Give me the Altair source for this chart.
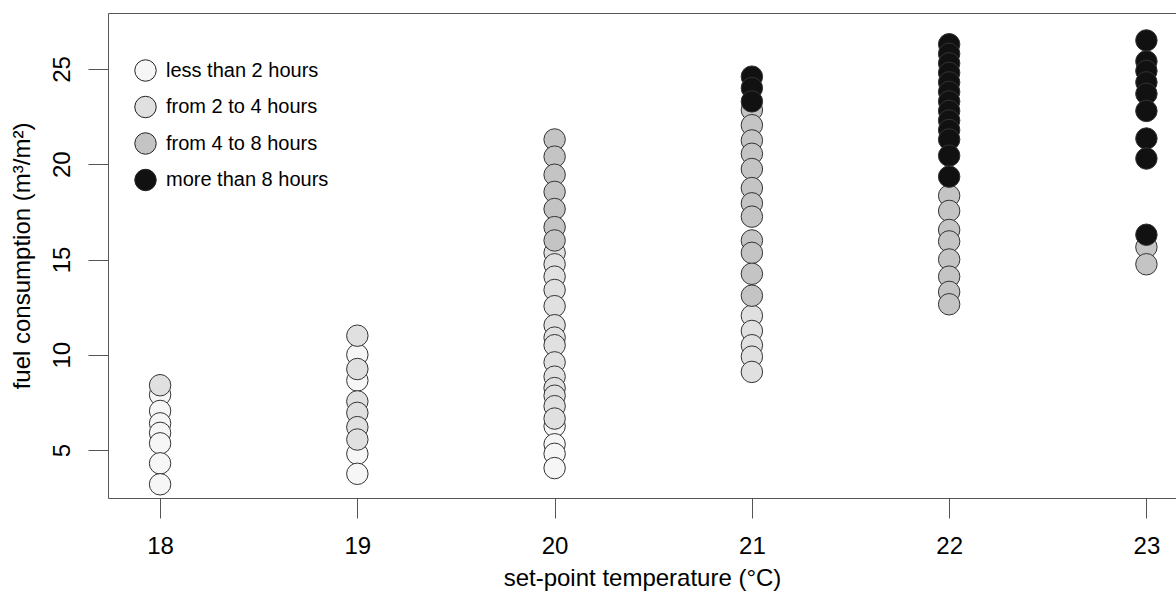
import altair as alt
import pandas as pd

# set-point temperature per observation
temps = (
    [18] * 8
    + [19] * 10
    + [20] * 25
    + [21] * 20
    + [22] * 21
    + [23] * 11
)

# fuel consumption (m3/m2)
fuel = (
    [8.4, 7.9, 7.05, 6.4, 5.9, 5.35, 4.3, 3.2]
    + [11.0, 10.0, 9.25, 8.65, 7.55, 6.95, 6.2, 5.55, 4.8, 3.75]
    + [21.3, 20.4, 19.45, 18.55, 17.65, 16.7, 16.0,
       15.35, 14.75, 14.1, 13.4, 12.55, 11.55, 10.9, 10.5, 9.6, 8.85, 8.25, 7.85, 7.3, 6.65,
       6.25, 5.3, 4.8, 4.05]
    + [24.6, 24.0, 23.3,
       22.85, 22.05, 21.25, 20.55, 19.75, 18.75, 17.95, 17.25, 16.0, 15.35, 14.25, 13.1,
       12.05, 11.25, 10.5, 9.9, 9.1]
    + [26.3, 25.8, 25.3, 24.8, 24.3, 23.8, 23.3, 22.8, 22.3, 21.8, 21.3, 20.45, 19.35,
       18.35, 17.55, 16.55, 15.95, 15.0, 14.1, 13.3, 12.65]
    + [26.5, 25.4, 24.9, 24.3, 23.7, 22.8, 21.35, 20.3, 16.3,
       15.65, 14.75]
)

W, L, G, B = "less than 2 hours", "from 2 to 4 hours", "from 4 to 8 hours", "more than 8 hours"
duration = (
    [L] + [W] * 7
    + [L, W, L, W, L, L, L, L, W, W]
    + [G] * 7 + [L] * 14 + [W] * 4
    + [B] * 3 + [G] * 12 + [L] * 5
    + [B] * 13 + [G] * 8
    + [B] * 9 + [G] * 2
)

categories = [W, L, G, B]
colors = ["#f6f6f6", "#e0e0e0", "#c4c4c4", "#111111"]
x_ticks = [18, 19, 20, 21, 22, 23]
y_ticks = [5, 10, 15, 20, 25]

df = pd.DataFrame({"temp": temps, "fuel": fuel, "duration": duration})
df["rank"] = df["duration"].map({c: i for i, c in enumerate(categories)})

FONT = "Liberation Sans"

chart = (
    alt.Chart(df)
    .mark_circle(size=460, opacity=1, stroke="#333333", strokeWidth=1)
    .encode(
        x=alt.X(
            "temp:Q",
            scale=alt.Scale(domain=[17.736, 23.15], nice=False, zero=False),
            axis=alt.Axis(
                values=x_ticks,
                title="set-point temperature (°C)",
                grid=False,
                domain=False,
                labelFontSize=24,
                titleFontSize=24,
                tickSize=20,
                labelPadding=16,
                titlePadding=8,
            ),
        ),
        y=alt.Y(
            "fuel:Q",
            scale=alt.Scale(domain=[2.48, 27.94], nice=False, zero=False),
            axis=alt.Axis(
                values=y_ticks,
                title="fuel consumption (m³/m²)",
                grid=False,
                domain=False,
                labelFontSize=24,
                titleFontSize=24,
                tickSize=20,
                labelAngle=270,
                labelPadding=14,
                titlePadding=16,
            ),
        ),
        color=alt.Color(
            "duration:N",
            scale=alt.Scale(domain=categories, range=colors),
            legend=alt.Legend(
                title=None,
                orient="none",
                legendX=26,
                legendY=46,
                symbolSize=460,
                symbolStrokeColor="#222222",
                symbolStrokeWidth=1,
                symbolType="circle",
                labelFontSize=20,
                labelOffset=9,
                rowPadding=9.5,
                labelLimit=400,
            ),
        ),
        order=alt.Order("rank:Q"),
    )
    .properties(
        width=1068,
        height=485,
        background="white",
        padding={"left": 108, "top": 13, "right": 0, "bottom": 99},
        autosize=alt.AutoSizeParams(type="none"),
    )
    .configure_view(stroke="#555555", strokeWidth=1)
    .configure_axis(
        tickColor="#555555",
        tickWidth=1,
        labelColor="#000000",
        titleColor="#000000",
        labelFont=FONT,
        titleFont=FONT,
        titleFontWeight="normal",
    )
    .configure_legend(labelFont=FONT, labelColor="#000000")
)

chart.save("out.html", embed_options={"renderer": "svg", "actions": False})
